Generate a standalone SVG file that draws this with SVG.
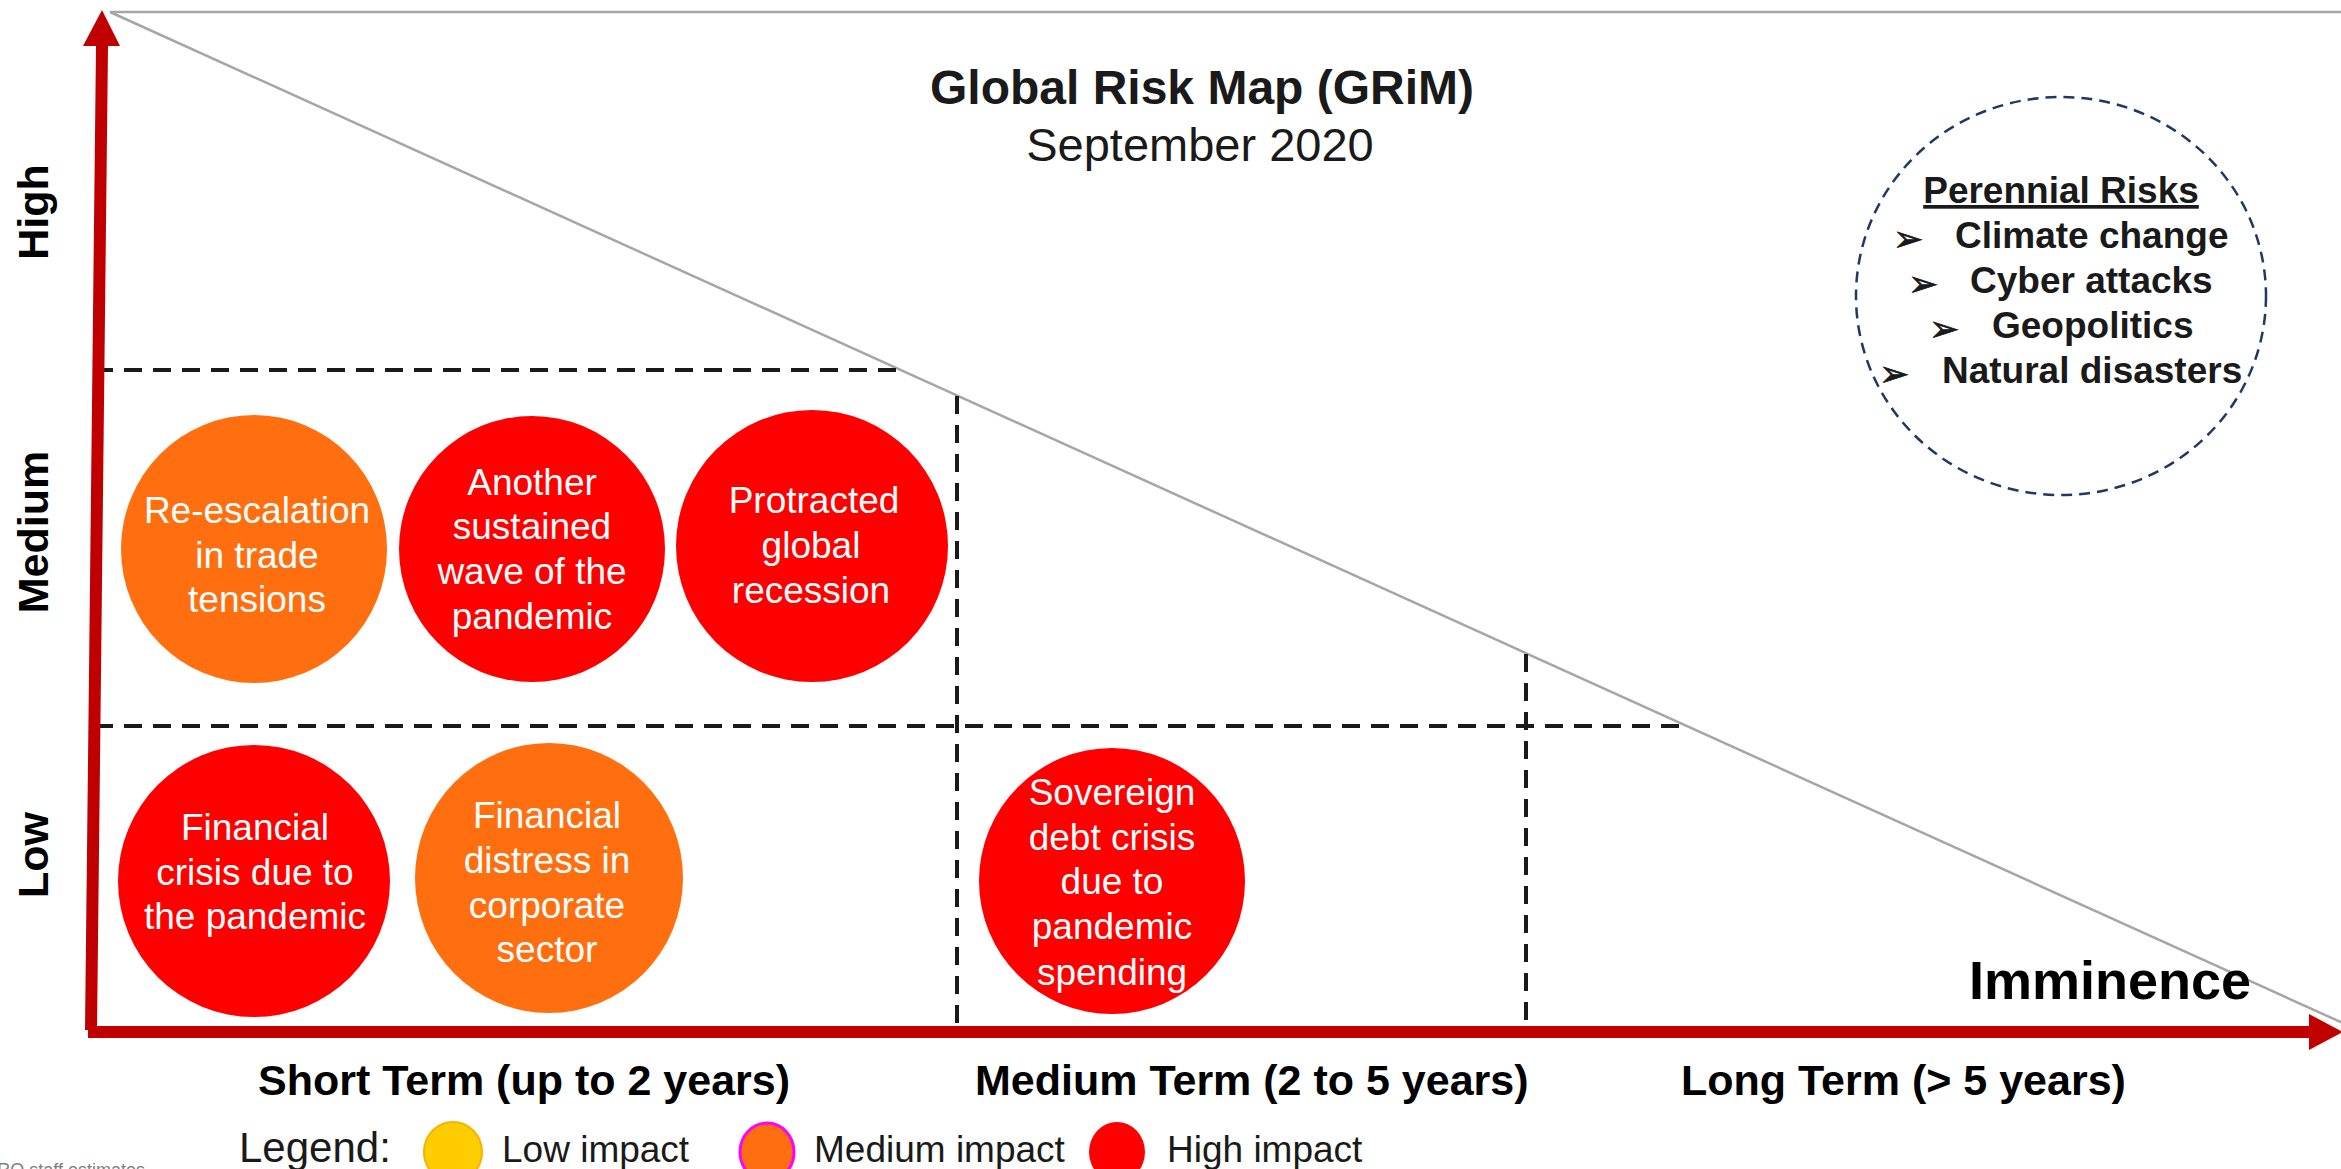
<svg xmlns="http://www.w3.org/2000/svg" width="2341" height="1169" viewBox="0 0 2341 1169">
  <style>
    text { font-family: "Liberation Sans", Arial, Helvetica, sans-serif; }
    .grid { stroke: #1a1a1a; stroke-width: 4; stroke-dasharray: 18 11; fill: none; }
    .frontier { stroke: #a6a6a6; stroke-width: 2.5; fill: none; }
    .axis { fill: #c00000; }
    .high { fill: #ff0000; }
    .med { fill: #ff6f10; }
    .risk { fill: #ffffff; font-size: 37px; text-anchor: middle; }
    .level { font-size: 43px; font-weight: bold; fill: #000; text-anchor: middle; }
    .term { font-size: 43px; font-weight: bold; fill: #000; }
    .legend { font-size: 37px; fill: #1a1a1a; }
    .peren { font-size: 37px; font-weight: bold; fill: #1a1a1a; }
    .bullet { font-family: "DejaVu Sans", sans-serif; font-size: 36px; fill: #1a1a1a; stroke: #1a1a1a; stroke-width: 0.8; }
  </style>

  <rect width="2341" height="1169" fill="#ffffff"/>

  <!-- axes, frontier line and quadrant grid -->
  <g id="connectors">
    <line class="frontier" x1="110" y1="12" x2="2341" y2="12"/>
    <line class="frontier" x1="110" y1="12" x2="2345" y2="1024"/>
    <line class="grid" x1="95" y1="370" x2="900" y2="370"/>
    <line class="grid" x1="95" y1="726" x2="1686" y2="726"/>
    <line class="grid" x1="957" y1="396" x2="957" y2="1025"/>
    <line class="grid" x1="1526" y1="654" x2="1526" y2="1025"/>
    <!-- vertical axis (impact) -->
    <polygon class="axis" points="96,46 108,46 97,1030 85,1030"/>
    <polygon class="axis" points="102,10 83,46 120,46"/>
    <!-- horizontal axis (imminence) -->
    <rect class="axis" x="88" y="1026" width="2222" height="12"/>
    <polygon class="axis" points="2309,1014 2343,1032 2309,1050"/>
  </g>

  <g id="title">
    <text x="1202" y="104" font-size="48" font-weight="bold" fill="#1a1a1a" text-anchor="middle">Global Risk Map (GRiM)</text>
    <text x="1200" y="161" font-size="47" fill="#1a1a1a" text-anchor="middle">September 2020</text>
  </g>

  <g id="impact-levels">
    <text class="level" transform="translate(48,212) rotate(-90)">High</text>
    <text class="level" transform="translate(48,532) rotate(-90)">Medium</text>
    <text class="level" transform="translate(48,855) rotate(-90)">Low</text>
  </g>

  <g id="imminence-label">
    <text x="1969" y="999" font-size="54" font-weight="bold" fill="#000">Imminence</text>
  </g>

  <g id="term-labels">
    <text class="term" x="258" y="1095">Short Term (up to 2 years)</text>
    <text class="term" x="975" y="1095">Medium Term (2 to 5 years)</text>
    <text class="term" x="1681" y="1095">Long Term (&gt; 5 years)</text>
  </g>

  <!-- risk bubbles -->
  <g id="risk-trade">
    <ellipse class="med" cx="254" cy="549" rx="133" ry="134"/>
    <text class="risk" x="257" y="523">Re-escalation</text>
    <text class="risk" x="257" y="568">in trade</text>
    <text class="risk" x="257" y="612">tensions</text>
  </g>
  <g id="risk-wave">
    <ellipse class="high" cx="532" cy="549" rx="133" ry="133"/>
    <text class="risk" x="532" y="495">Another</text>
    <text class="risk" x="532" y="539">sustained</text>
    <text class="risk" x="532" y="584">wave of the</text>
    <text class="risk" x="532" y="629">pandemic</text>
  </g>
  <g id="risk-recession">
    <ellipse class="high" cx="812" cy="546" rx="136" ry="136"/>
    <text class="risk" x="814" y="513">Protracted</text>
    <text class="risk" x="811" y="558">global</text>
    <text class="risk" x="811" y="603">recession</text>
  </g>
  <g id="risk-financial-crisis">
    <ellipse class="high" cx="254" cy="881" rx="136" ry="136"/>
    <text class="risk" x="255" y="840">Financial</text>
    <text class="risk" x="255" y="885">crisis due to</text>
    <text class="risk" x="255" y="929">the pandemic</text>
  </g>
  <g id="risk-corporate">
    <ellipse class="med" cx="549" cy="878" rx="134" ry="135"/>
    <text class="risk" x="547" y="828">Financial</text>
    <text class="risk" x="547" y="873">distress in</text>
    <text class="risk" x="547" y="918">corporate</text>
    <text class="risk" x="547" y="962">sector</text>
  </g>
  <g id="risk-sovereign">
    <ellipse class="high" cx="1112" cy="881" rx="133" ry="133"/>
    <text class="risk" x="1112" y="805">Sovereign</text>
    <text class="risk" x="1112" y="850">debt crisis</text>
    <text class="risk" x="1112" y="894">due to</text>
    <text class="risk" x="1112" y="939">pandemic</text>
    <text class="risk" x="1112" y="985">spending</text>
  </g>

  <!-- perennial risks bubble -->
  <g id="perennial-risks">
    <ellipse cx="2061" cy="296" rx="205" ry="199" fill="none" stroke="#1f3864" stroke-width="2.5" stroke-dasharray="11 7"/>
    <text class="peren" x="2061" y="203" text-anchor="middle" text-decoration="underline">Perennial Risks</text>
    <text class="bullet" x="1893" y="251">➢</text>
    <text class="peren" x="1955" y="248">Climate change</text>
    <text class="bullet" x="1908" y="296">➢</text>
    <text class="peren" x="1970" y="293">Cyber attacks</text>
    <text class="bullet" x="1929" y="341">➢</text>
    <text class="peren" x="1992" y="338">Geopolitics</text>
    <text class="bullet" x="1879" y="386">➢</text>
    <text class="peren" x="1942" y="383">Natural disasters</text>
  </g>

  <g id="legend">
    <text x="239" y="1162" font-size="42" fill="#1a1a1a">Legend:</text>
    <ellipse cx="453" cy="1152" rx="29" ry="30" fill="#ffcc00" stroke="#f5b400" stroke-width="2"/>
    <text class="legend" x="502" y="1162">Low impact</text>
    <ellipse cx="767" cy="1152" rx="27" ry="29" fill="#ff6f10" stroke="#ff00ff" stroke-width="3"/>
    <text class="legend" x="814" y="1162">Medium impact</text>
    <ellipse cx="1117" cy="1152" rx="28" ry="30" fill="#ff0000"/>
    <text class="legend" x="1167" y="1162">High impact</text>
  </g>

  <g id="source-note">
    <text x="145" y="1176" font-size="18" fill="#808080" text-anchor="end">RO staff estimates</text>
  </g>
</svg>
